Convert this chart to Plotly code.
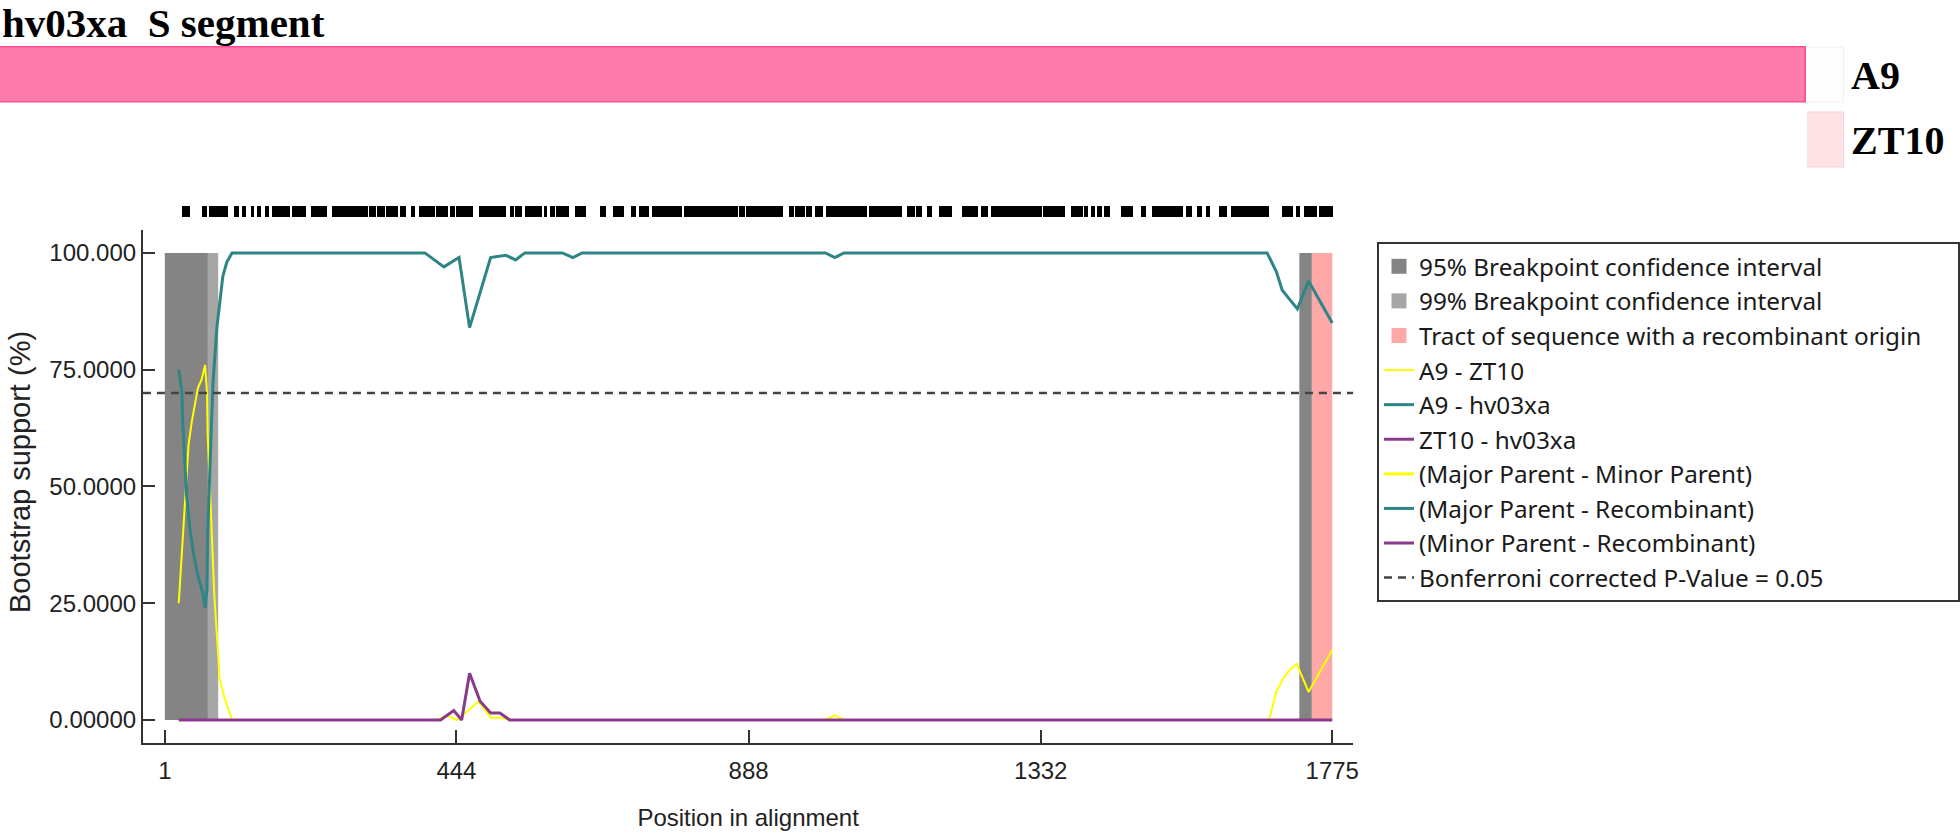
import plotly.graph_objects as go

W, H = 1960, 833

# ---- data ----
seq_len = 1775
x_ticks = [1, 444, 888, 1332, 1775]
y_ticks = [0, 25, 50, 75, 100]
y_tick_text = ['0.00000', '25.0000', '50.0000', '75.0000', '100.000']
bonferroni = 70

ci95_left = [1, 66]
ci99_left = [1, 82]
ci95_right = [1725, 1744]
tract = [1744, 1775]

# A9 - hv03xa (major parent - recombinant)
teal_x = [22, 27, 28, 31, 34, 39, 44, 51, 59, 62, 65, 66, 69, 72, 74, 80, 85, 89, 95, 103,
          396, 425, 448, 464, 496, 519, 534, 548, 605, 621, 635, 1005, 1019, 1033,
          1676, 1690, 1699, 1710, 1722, 1739, 1775]
teal_y = [75, 70, 64, 56, 48, 41, 36, 31, 27, 24, 28, 40, 51, 61, 72, 84, 91, 95, 98, 100,
          100, 97, 99, 84, 99, 99.5, 98.5, 100, 100, 99, 100, 100, 99, 100,
          100, 96, 92, 90, 88, 94, 85]

# A9 - ZT10 (major parent - minor parent)
yellow_x = [22, 27, 30, 34, 37, 42, 46, 51, 57, 62, 65, 66, 69, 72, 76, 81, 84, 91, 99, 103,
            415, 430, 445, 462, 478, 496, 510, 525, 1005, 1019, 1033,
            1679, 1690, 1699, 1710, 1721, 1739, 1775]
yellow_y = [25, 36, 44, 51, 59, 64, 67, 71, 73, 76, 70, 61, 51, 39, 27, 16, 9, 5, 1.5, 0,
            0, 1, 0, 2, 4, 0.5, 0.5, 0, 0, 1, 0,
            0, 6, 8.5, 10.7, 12, 6, 15]

# ZT10 - hv03xa (minor parent - recombinant)
purple_x = [22, 420, 440, 452, 464, 480, 496, 510, 525, 1775]
purple_y = [0, 0, 2, 0, 10, 4, 1.5, 1.5, 0, 0]

# informative sites (runs of adjacent marks) along the alignment
site_start = [27, 57, 68, 107, 118, 132, 141, 153, 164, 194, 224, 255, 312, 324, 338, 359, 375,
              387, 414, 434, 444, 478, 526, 534, 549, 577, 587, 596, 624, 662, 682, 709, 722,
              742, 791, 874, 885, 950, 959, 976, 990, 1006, 1072, 1076, 1129, 1143, 1160, 1178,
              1213, 1242, 1257, 1289, 1297, 1336, 1378, 1398, 1409, 1418, 1429, 1454, 1485,
              1502, 1553, 1570, 1584, 1603, 1621, 1699, 1720, 1732, 1755]
site_end = [39, 65, 97, 113, 124, 136, 147, 159, 191, 215, 247, 309, 321, 335, 355, 367, 381,
            411, 431, 441, 469, 519, 531, 543, 574, 581, 593, 615, 640, 671, 698, 716, 736,
            786, 871, 882, 940, 956, 973, 984, 1000, 1067, 1075, 1120, 1140, 1151, 1166, 1196,
            1236, 1251, 1288, 1295, 1333, 1369, 1395, 1403, 1414, 1424, 1436, 1471, 1492,
            1547, 1562, 1576, 1588, 1615, 1679, 1714, 1725, 1751, 1775]

seq_names = ['ZT10', 'A9']
seq_colors = ['#fde3e6', '#fdfdfd']

C_YELLOW = '#ffff00'
C_TEAL = '#2e8585'
C_PURPLE = '#8a3a8a'
C_DARK = '#848484'
C_LIGHT = '#a6a6a6'
C_TRACT = '#ffa8a8'


def rect(span, top=100):
    return [span[0], span[0], span[1], span[1], span[0]], [0, top, top, 0, 0]


fig = go.Figure()

# confidence intervals / tract
for span, col in [(ci99_left, C_LIGHT), (ci95_left, C_DARK), (ci95_right, C_DARK), (tract, C_TRACT)]:
    rx, ry = rect(span)
    fig.add_trace(go.Scatter(x=rx, y=ry, fill='toself', fillcolor=col, mode='lines',
                             line=dict(width=0, color=col), showlegend=False, hoverinfo='skip'))

# legend entries for shaded regions (in the reference order)
for col, name in [(C_DARK, '95% Breakpoint confidence interval'),
                  (C_LIGHT, '99% Breakpoint confidence interval'),
                  (C_TRACT, 'Tract of sequence with a recombinant origin' + '\u00a0' * 5)]:
    fig.add_trace(go.Scatter(x=[None], y=[None], mode='markers', name=name,
                             marker=dict(symbol='square', size=15, color=col)))

fig.add_trace(go.Scatter(x=yellow_x, y=yellow_y, mode='lines', name='A9 - ZT10',
                         line=dict(color=C_YELLOW, width=2)))
fig.add_trace(go.Scatter(x=teal_x, y=teal_y, mode='lines', name='A9 - hv03xa',
                         line=dict(color=C_TEAL, width=3)))
fig.add_trace(go.Scatter(x=purple_x, y=purple_y, mode='lines', name='ZT10 - hv03xa',
                         line=dict(color=C_PURPLE, width=3)))
fig.add_trace(go.Scatter(x=[None], y=[None], mode='lines', name='(Major Parent - Minor Parent)',
                         line=dict(color=C_YELLOW, width=3)))
fig.add_trace(go.Scatter(x=[None], y=[None], mode='lines', name='(Major Parent - Recombinant)',
                         line=dict(color=C_TEAL, width=3)))
fig.add_trace(go.Scatter(x=[None], y=[None], mode='lines', name='(Minor Parent - Recombinant)',
                         line=dict(color=C_PURPLE, width=3)))

x_lo, x_hi = -32.4, 1807
fig.add_trace(go.Scatter(x=[x_lo, x_hi], y=[bonferroni, bonferroni], mode='lines',
                         name='Bonferroni corrected P-Value = 0.05',
                         line=dict(color='#444444', width=2.5, dash='8px,6px')))

# informative sites bar code
centers = [(s + e) / 2 for s, e in zip(site_start, site_end)]
widths = [e - s + 1 for s, e in zip(site_start, site_end)]
fig.add_trace(go.Bar(x=centers, y=[1] * len(centers), width=widths, base=0,
                     marker=dict(color='black', line=dict(width=0)),
                     xaxis='x', yaxis='y2', showlegend=False, hoverinfo='skip'))

# recombinant sequence band + parent swatches
fig.add_trace(go.Bar(x=[seq_len], y=['A9'], base=0, orientation='h', width=0.86,
                     marker=dict(color='#ff7bac', line=dict(color='#ff4f92', width=1.5)),
                     xaxis='x3', yaxis='y3', showlegend=False, hoverinfo='skip'))
fig.add_trace(go.Bar(x=[1, 1], y=seq_names, base=0, orientation='h', width=0.86,
                     marker=dict(color=seq_colors, line=dict(color=['#f9d0d5', '#f2f2f2'], width=1)),
                     xaxis='x4', yaxis='y4', showlegend=False, hoverinfo='skip'))

axis_font = dict(family='Liberation Sans, Arial', size=24, color='#222222')
seq_font = dict(family='Liberation Serif, Times New Roman', size=40, color='black', weight='bold')

fig.update_layout(
    width=W, height=H,
    margin=dict(l=0, r=0, t=0, b=0),
    paper_bgcolor='white', plot_bgcolor='white',
    showlegend=True,
    bargap=0,
    xaxis=dict(domain=[143 / W, 1354 / W], range=[x_lo, x_hi], tickvals=x_ticks,
               ticks='inside', ticklen=13, tickwidth=2, tickcolor='#333',
               showline=True, linecolor='#333', linewidth=2, showgrid=False, zeroline=False,
               tickfont=axis_font, ticklabelstandoff=5,
               title=dict(text='Position in alignment', font=axis_font, standoff=26),
               anchor='y', automargin=False),
    yaxis=dict(domain=[1 - 743 / H, 1 - 230 / H], range=[-4.93, 104.9], tickvals=y_ticks,
               ticktext=y_tick_text, ticks='inside', ticklen=12, tickwidth=2, tickcolor='#333',
               showline=True, linecolor='#333', linewidth=2, showgrid=False, zeroline=False,
               tickfont=axis_font, ticklabelstandoff=0,
               anchor='x', automargin=False),
    yaxis2=dict(domain=[1 - 217 / H, 1 - 206 / H], range=[0, 1], visible=False, anchor='x'),
    xaxis3=dict(domain=[0, 1807 / W], range=[0, seq_len], visible=False, anchor='y3'),
    yaxis3=dict(domain=[1 - 172.5 / H, 1 - 42.5 / H], categoryorder='array',
                categoryarray=seq_names, range=[-0.5, 1.5], visible=False, anchor='x3'),
    xaxis4=dict(domain=[1808 / W, 1845 / W], range=[0, 1], visible=False, anchor='y4'),
    yaxis4=dict(domain=[1 - 172.5 / H, 1 - 42.5 / H], categoryorder='array',
                categoryarray=seq_names, range=[-0.5, 1.5], side='right', anchor='x4',
                showline=False, showgrid=False, zeroline=False, ticks='',
                tickfont=seq_font, ticklabelstandoff=6, automargin=False),
    legend=dict(x=1378 / W, y=1 - 242 / H, xanchor='left', yanchor='top',
                bordercolor='#333', borderwidth=2, bgcolor='white',
                font=dict(family='Noto Sans, Liberation Sans, Arial', size=24.3, color='#1a1a1a'),
                itemwidth=30, tracegroupgap=0),
    annotations=[
        dict(text='hv03xa\u00a0\u00a0S segment', x=0, y=1, xref='paper', yref='paper',
             xanchor='left', yanchor='top', showarrow=False, yshift=2,
             font=dict(seq_font, size=41)),
        dict(text='Bootstrap support (%)', x=20 / W, y=1 - 472 / H, xref='paper', yref='paper',
             xanchor='center', yanchor='middle', textangle=-90, showarrow=False,
             font=dict(family='Liberation Sans, Arial', size=29, color='#222')),
    ],
)

fig.write_html('out.html', config={'displayModeBar': False},
               post_script="document.body.style.margin='0';")
